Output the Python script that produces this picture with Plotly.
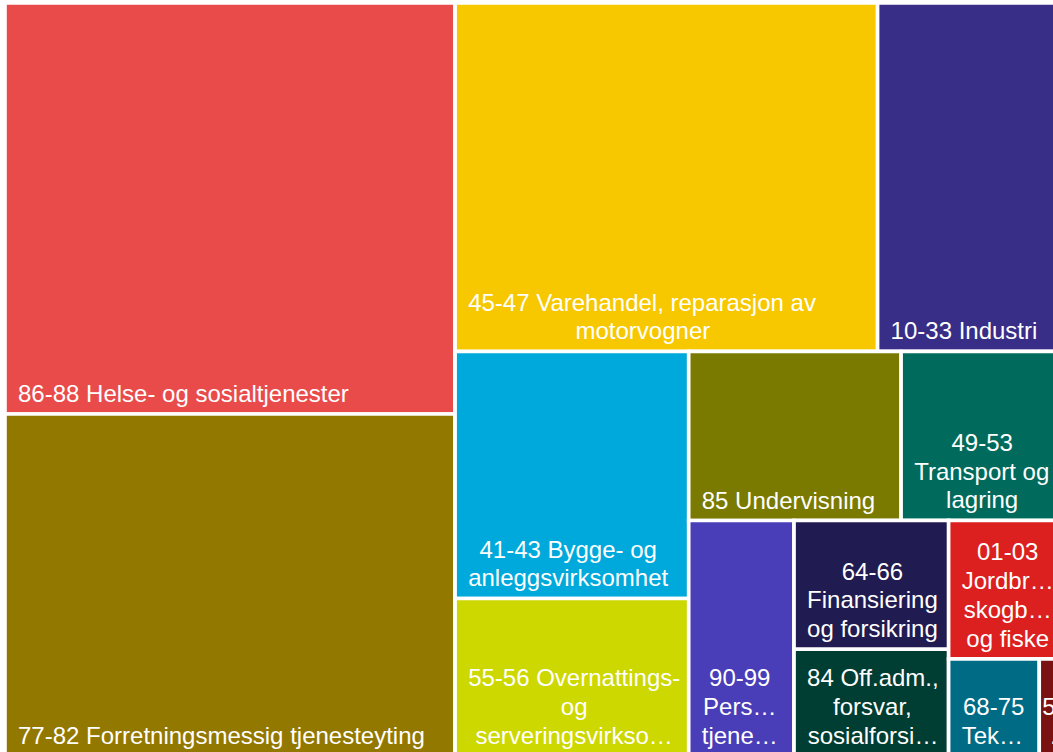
import math
import plotly.graph_objects as go

# ---- data ----
naering = [
    "86-88 Helse- og sosialtjenester",
    "77-82 Forretningsmessig tjenesteyting",
    "45-47 Varehandel, reparasjon av motorvogner",
    "10-33 Industri",
    "41-43 Bygge- og anleggsvirksomhet",
    "55-56 Overnattings- og serveringsvirksomhet",
    "85 Undervisning",
    "49-53 Transport og lagring",
    "90-99 Personlig tjenesteyting",
    "64-66 Finansiering og forsikring",
    "84 Off.adm., forsvar, sosialforsikring",
    "01-03 Jordbruk, skogbruk og fiske",
    "68-75 Teknisk tjenesteyting, eiendomsdrift",
    "58-63 Informasjon og kommunikasjon",
]
verdier = [185.0, 153.9, 147.2, 65.3, 57.7, 36.8, 35.9, 27.7, 24.8, 19.9, 16.5, 16.1, 8.8, 2.5]

# label lines as they are wrapped / shortened in the picture
etiketter = [
    ["86-88 Helse- og sosialtjenester"],
    ["77-82 Forretningsmessig tjenesteyting"],
    ["45-47 Varehandel, reparasjon av", "motorvogner"],
    ["10-33 Industri"],
    ["41-43 Bygge- og", "anleggsvirksomhet"],
    ["55-56 Overnattings-", "og", "serveringsvirkso…"],
    ["85 Undervisning"],
    ["49-53", "Transport og", "lagring"],
    ["90-99", "Pers…", "tjene…"],
    ["64-66", "Finansiering", "og forsikring"],
    ["84 Off.adm.,", "forsvar,", "sosialforsi…"],
    ["01-03", "Jordbr…", "skogb…", "og fiske"],
    ["68-75", "Tek…"],
    ["5…", "…"],
]
farger = [
    "#E94B4B", "#937800", "#F7C800", "#382D87", "#00A9DB", "#CDD700", "#7A7A00",
    "#006B5C", "#4A3DB8", "#201B50", "#003D33", "#DC1F1F", "#006B85", "#7A1212",
]

# grouping that reproduces the nesting of the tiles
struktur = {
    "root": ["A", "B"],
    "A": [0, 1],
    "B": ["B1", "B2"],
    "B1": [2, 3],
    "B2": ["C1", "C2"],
    "C1": [4, 5],
    "C2": ["D1", "D2"],
    "D1": [6, 7],
    "D2": [8, "FG", "E"],
    "FG": [9, 10],
    "E": [11, "F"],
    "F": [12, 13],
}

# ---- text formatting (Arial advance widths, em) ----
FONT = 24
NB = "\u00a0"
W = {" ": .2778, NB: .2778, ".": .2778, ",": .2778, "-": .333, "…": 1.0,
     "a": .5562, "b": .5562, "c": .5, "d": .5562, "e": .5562, "f": .2778, "g": .5562,
     "h": .5562, "i": .2222, "j": .2222, "k": .5, "l": .2222, "m": .833, "n": .5562,
     "o": .5562, "p": .5562, "q": .5562, "r": .333, "s": .5, "t": .2778, "u": .5562,
     "v": .5, "w": .7222, "x": .5, "y": .5, "z": .5,
     "B": .667, "F": .6108, "H": .7222, "I": .2778, "J": .5, "O": .7778, "P": .667,
     "T": .6108, "U": .7222, "V": .667}


def bredde(s):
    return sum(W.get(c, .5562) for c in s) * FONT


def mellomrom(px):
    if px <= 0.3:
        return ""
    n = max(1, math.ceil(px / (.2778 * FONT)))
    size = px / (n * .2778)
    return '<span style="font-size:%.2fpx">%s</span>' % (size, NB * n)


def formater(linjer, venstre=10):
    maks = max(bredde(l) for l in linjer)
    ut = []
    for i, l in enumerate(linjer):
        s = mellomrom(venstre + (maks - bredde(l)) / 2)
        s += '<span style="font-size:%dpx">%s</span>' % (FONT, l)
        if i == len(linjer) - 1:
            s += '<span style="font-size:42px">%s</span>' % NB
        ut.append(s)
    return "<br>".join(ut)


ids, labels, parents, values, texts, colors = [], [], [], [], [], []


def add(node, parent):
    if isinstance(node, int):
        ids.append("n%d" % node)
        labels.append(naering[node])
        parents.append(parent)
        values.append(verdier[node])
        texts.append(formater(etiketter[node], 0 if node == 13 else 10))
        colors.append(farger[node])
    else:
        ids.append(node)
        labels.append(node)
        parents.append(parent)
        values.append(0)
        texts.append("")
        colors.append("#FFFFFF")
        for ch in struktur[node]:
            add(ch, node)


add("root", "")

fig = go.Figure(go.Treemap(
    ids=ids,
    labels=labels,
    parents=parents,
    values=values,
    text=texts,
    texttemplate="%{text}",
    textposition="bottom left",
    textfont=dict(family="Arial, Liberation Sans", size=22.15, color="white"),
    marker=dict(colors=colors, line=dict(color="white", width=3.6),
                pad=dict(t=0, l=0, r=0, b=0)),
    tiling=dict(packing="slice-dice", pad=0),
    pathbar=dict(visible=False),
    sort=False,
    branchvalues="remainder",
    hoverinfo="skip",
))

fig.update_layout(
    width=1075, height=770,
    margin=dict(l=5, t=3, r=10, b=14, pad=0),
    paper_bgcolor="white",
    uniformtext=dict(minsize=22.15, mode="show"),
)

fig.write_html(
    "out.html",
    config={"displayModeBar": False},
    post_script="document.body.style.margin='0';document.body.style.overflow='hidden';",
)
